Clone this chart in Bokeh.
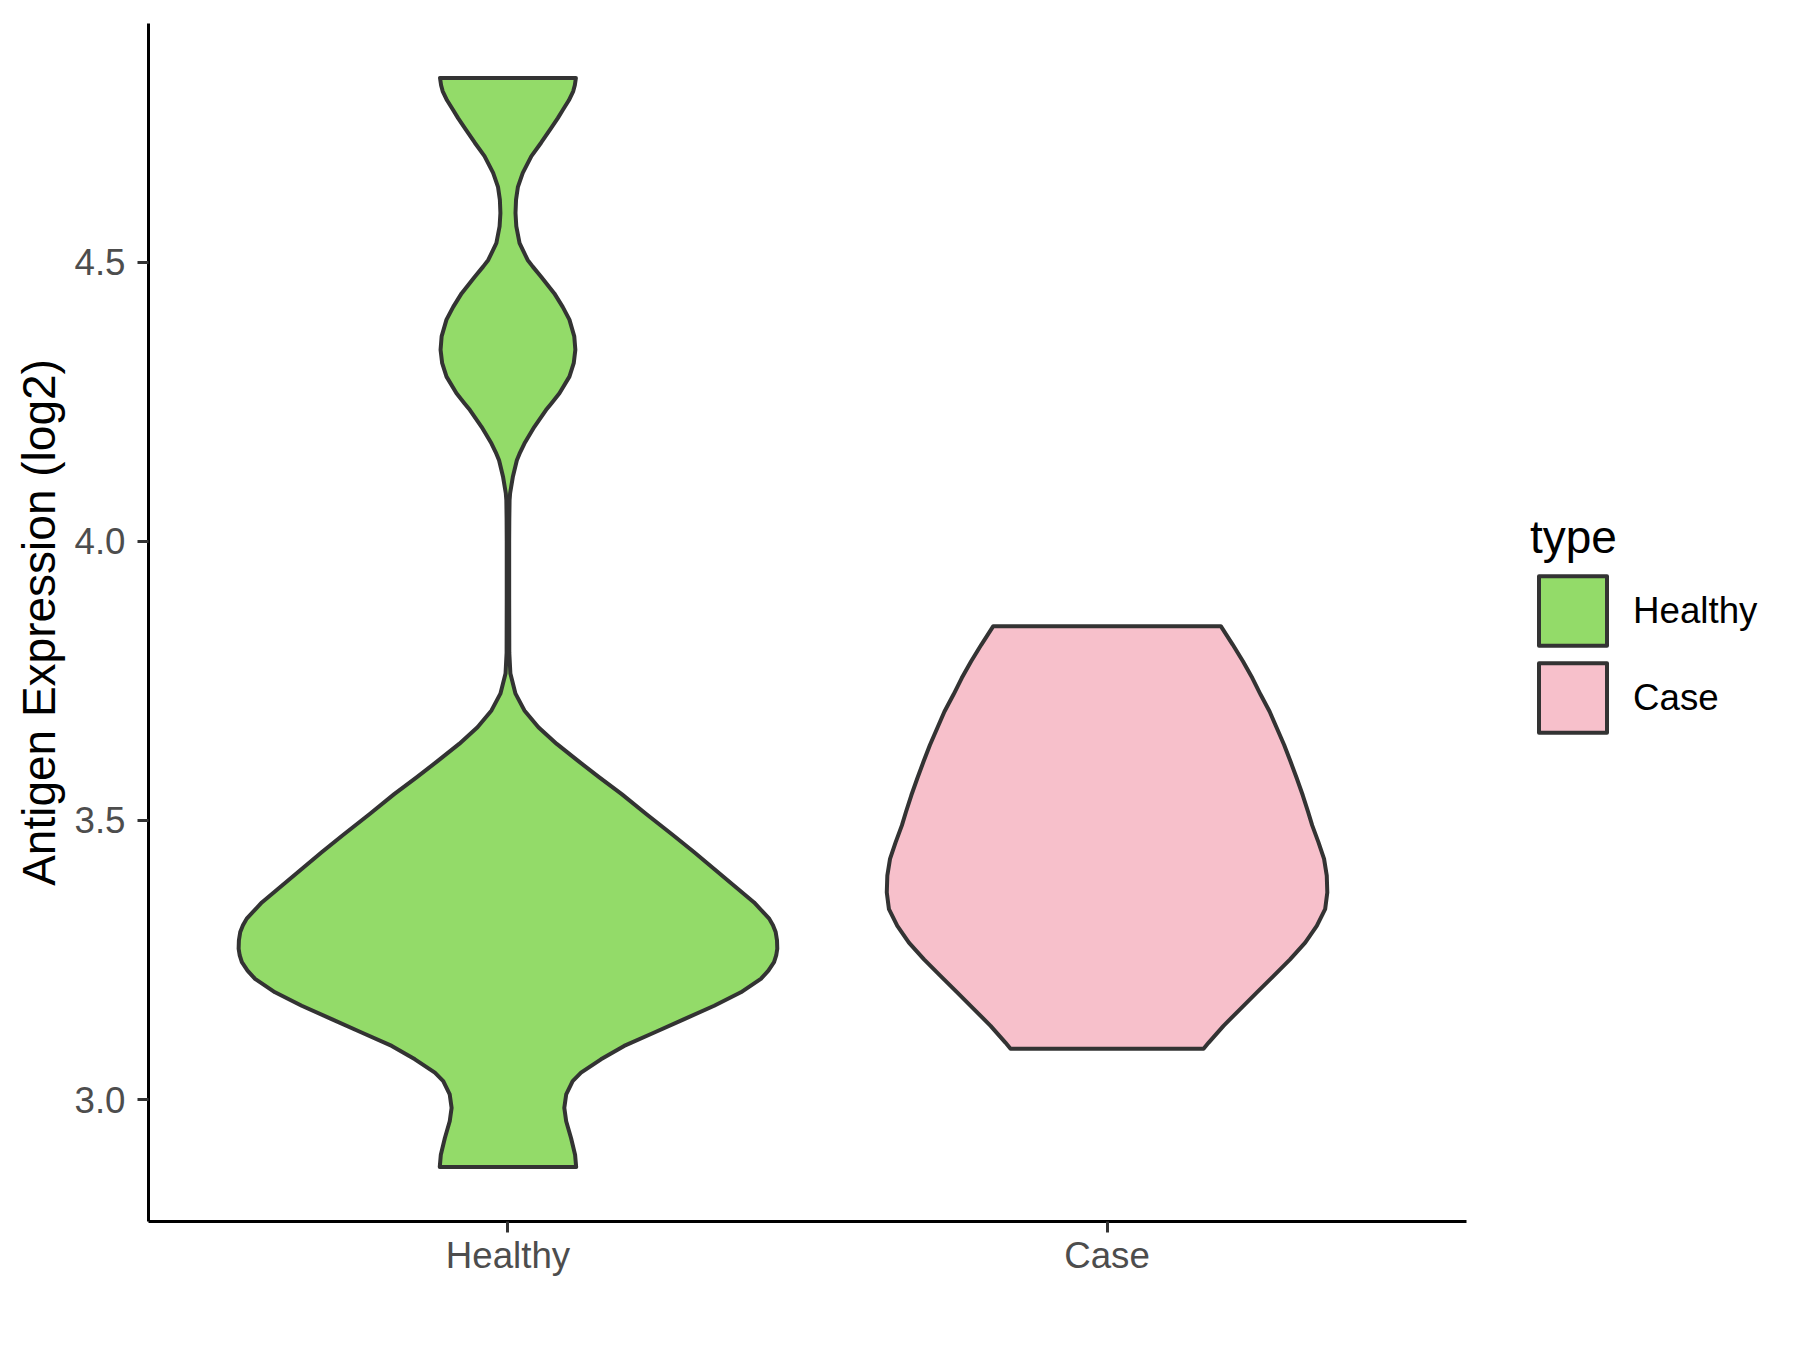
from bokeh.plotting import figure
from bokeh.models import Range1d, FixedTicker, NumeralTickFormatter, Legend, LegendItem
from bokeh.embed import file_html
from bokeh.resources import INLINE

# ---- data ----
categories = ["Healthy", "Case"]
fill_colors = ["#93DB69", "#F7C0CB"]

# violin outline: expression value (log2) and relative violin half-width (max = 1)
healthy_expr = [2.879, 2.901, 2.931, 2.961, 2.985, 3.009, 3.033, 3.048, 3.072, 3.096,
                3.120, 3.144, 3.168, 3.192, 3.216, 3.231, 3.246, 3.258, 3.270, 3.285,
                3.300, 3.312, 3.324, 3.353, 3.383, 3.413, 3.443, 3.473, 3.511, 3.547,
                3.577, 3.607, 3.637, 3.667, 3.697, 3.727, 3.763, 3.800, 3.900, 4.000,
                4.040, 4.074, 4.086, 4.115, 4.145, 4.157, 4.175, 4.205, 4.235, 4.247,
                4.265, 4.295, 4.319, 4.343, 4.367, 4.397, 4.420, 4.444, 4.474, 4.492,
                4.504, 4.534, 4.564, 4.588, 4.612, 4.635, 4.660, 4.690, 4.714, 4.740,
                4.758, 4.773, 4.790, 4.806, 4.817, 4.830]
healthy_density = [0.253, 0.249, 0.234, 0.216, 0.209, 0.216, 0.240, 0.271, 0.345, 0.431,
                   0.543, 0.654, 0.765, 0.864, 0.938, 0.966, 0.987, 0.995, 0.999, 0.998,
                   0.993, 0.983, 0.969, 0.913, 0.839, 0.765, 0.691, 0.614, 0.514, 0.422,
                   0.339, 0.259, 0.181, 0.113, 0.061, 0.028, 0.009, 0.005, 0.0045, 0.0045,
                   0.005, 0.006, 0.008, 0.018, 0.033, 0.043, 0.061, 0.098, 0.141, 0.161,
                   0.191, 0.228, 0.244, 0.250, 0.246, 0.228, 0.203, 0.172, 0.123, 0.092,
                   0.073, 0.043, 0.031, 0.028, 0.030, 0.037, 0.055, 0.087, 0.123, 0.160,
                   0.185, 0.204, 0.226, 0.242, 0.248, 0.252]

case_expr = [3.091, 3.102, 3.132, 3.162, 3.192, 3.221, 3.251, 3.281, 3.311, 3.341,
             3.371, 3.401, 3.431, 3.461, 3.491, 3.515, 3.545, 3.575, 3.605, 3.635,
             3.665, 3.695, 3.725, 3.755, 3.785, 3.815, 3.848]
case_density = [0.358, 0.377, 0.432, 0.494, 0.556, 0.617, 0.679, 0.735, 0.778, 0.809,
                0.817, 0.815, 0.805, 0.784, 0.761, 0.746, 0.726, 0.704, 0.681, 0.657,
                0.630, 0.603, 0.570, 0.539, 0.504, 0.466, 0.422]

y_ticks = [3.0, 3.5, 4.0, 4.5]
y_label = "Antigen Expression (log2)"
legend_title = "type"

# ---- figure ----
FONT = "Liberation Sans"
all_y = healthy_expr + case_expr
lo, hi = min(all_y), max(all_y)
pad = (hi - lo) * 0.05

p = figure(frame_width=1318, frame_height=1198, output_backend="svg", toolbar_location=None,
           x_range=Range1d(0.4, 2.6), y_range=Range1d(lo - pad, hi + pad),
           min_border_left=148, min_border_right=0, min_border_top=23,
           min_border_bottom=129)
p.outline_line_color = None
p.xgrid.visible = False
p.ygrid.visible = False
p.background_fill_color = "white"
p.border_fill_color = "white"

half_width = 0.45
renderers = []
for i, (ys, ds) in enumerate([(healthy_expr, healthy_density), (case_expr, case_density)]):
    pos = i + 1
    left = [pos - half_width * d for d in ds]
    right = [pos + half_width * d for d in ds]
    xs = left + right[::-1]
    yy = list(ys) + list(ys)[::-1]
    r = p.patch(xs, yy, fill_color=fill_colors[i], line_color="#333333",
                line_width=4, line_join="round")
    renderers.append(r)

for ax in (p.xaxis[0], p.yaxis[0]):
    ax.axis_line_color = "black"
    ax.axis_line_width = 3
    ax.major_tick_line_color = "#333333"
    ax.major_tick_line_width = 3
    ax.major_tick_out = 11
    ax.major_tick_in = 0
    ax.minor_tick_line_color = None
    ax.major_label_text_font = FONT
    ax.major_label_text_font_size = "36.7px"
    ax.major_label_text_color = "#4D4D4D"

p.xaxis.ticker = FixedTicker(ticks=[1, 2])
p.xaxis.major_label_overrides = {i + 1: c for i, c in enumerate(categories)}
p.xaxis.major_label_standoff = 2

p.yaxis.ticker = FixedTicker(ticks=y_ticks)
p.yaxis.formatter = NumeralTickFormatter(format="0.0")
p.yaxis.major_label_standoff = 12
p.yaxis.axis_label = y_label
p.yaxis.axis_label_text_font = FONT
p.yaxis.axis_label_text_font_size = "46px"
p.yaxis.axis_label_text_font_style = "normal"
p.yaxis.axis_label_text_color = "black"
p.yaxis.axis_label_standoff = 6

legend = Legend(items=[LegendItem(label=c, renderers=[r]) for c, r in zip(categories, renderers)],
                location=(64, 480), title=legend_title,
                title_text_font=FONT, title_text_font_size="46px",
                title_text_font_style="normal", title_text_color="black",
                title_standoff=3,
                label_text_font=FONT, label_text_font_size="36.7px", label_text_color="black",
                label_standoff=18, glyph_width=85, glyph_height=87, spacing=0,
                padding=0, margin=0, border_line_color=None, background_fill_alpha=0)
p.add_layout(legend, "right")

open("out.html", "w").write(file_html(p, INLINE))
